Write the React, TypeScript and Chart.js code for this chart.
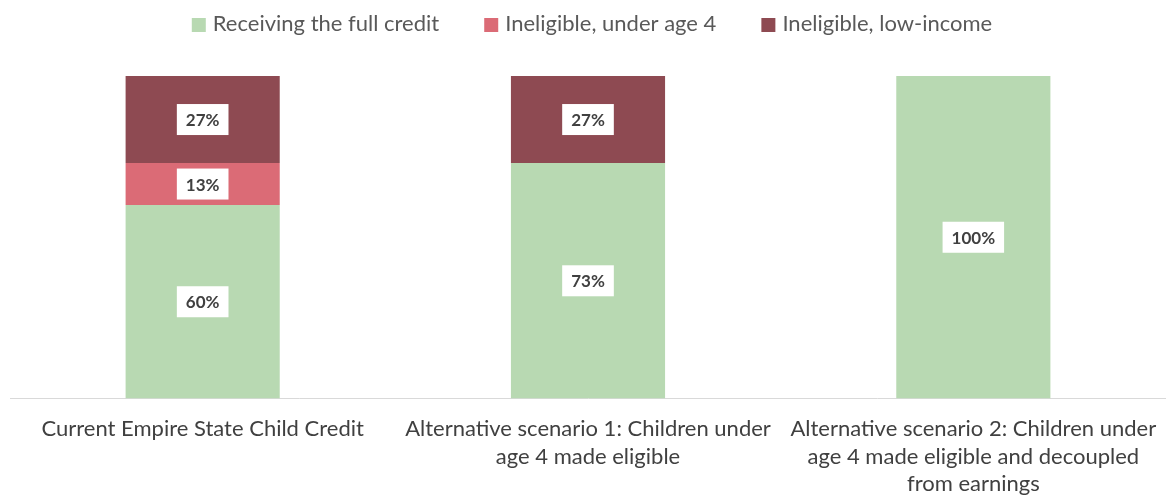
import React, { useEffect, useRef } from "react";
import { Chart, registerables } from "chart.js";

Chart.register(...registerables);

const categories: string[][] = [
  ["Current Empire State Child Credit"],
  ["Alternative scenario 1: Children under", "age 4 made eligible"],
  ["Alternative scenario 2: Children under", "age 4 made eligible and decoupled", "from earnings"],
];
const seriesNames = ["Receiving the full credit", "Ineligible, under age 4", "Ineligible, low-income"];
const seriesColors = ["#B8D9B2", "#DB6B76", "#8E4A52"];
const fullCredit = [60, 73, 100];
const underAge4 = [13, 0, 0];
const lowIncome = [27, 27, 0];

const FONT = "Lato, 'Open Sans', sans-serif";

const labelPlugin = {
  id: "boxLabels",
  afterDatasetsDraw(chart: any) {
    const ctx = chart.ctx;
    ctx.save();
    ctx.font = `bold 17px ${FONT}`;
    ctx.textAlign = "center";
    ctx.textBaseline = "middle";
    chart.data.datasets.forEach((ds: any, di: number) => {
      const meta = chart.getDatasetMeta(di);
      meta.data.forEach((el: any, i: number) => {
        const v = ds.data[i];
        if (!v) return;
        const cy = (el.y + el.base) / 2;
        const text = `${v}%`;
        const w = ctx.measureText(text).width + 18;
        const h = 31;
        ctx.fillStyle = "#ffffff";
        ctx.fillRect(el.x - w / 2, cy - h / 2, w, h);
        ctx.fillStyle = "#404040";
        ctx.fillText(text, el.x, cy + 1);
      });
    });
    ctx.restore();
  },
};

const legendPlugin = {
  id: "topLegend",
  afterDraw(chart: any) {
    const ctx = chart.ctx;
    ctx.save();
    ctx.font = `22px ${FONT}`;
    ctx.textBaseline = "middle";
    ctx.textAlign = "left";
    const box = 14;
    const gapBoxText = 7;
    const gapItems = 45;
    const items = chart.data.datasets.map((ds: any) => ({
      label: ds.label,
      color: ds.backgroundColor,
      w: ctx.measureText(ds.label).width,
    }));
    const total =
      items.reduce((s: number, it: any) => s + box + gapBoxText + it.w, 0) + gapItems * (items.length - 1);
    const center = (chart.chartArea.left + chart.chartArea.right) / 2 + 4;
    let x = center - total / 2;
    const y = 24;
    items.forEach((it: any) => {
      ctx.fillStyle = it.color;
      ctx.fillRect(x, y - box / 2 + 1, box, box);
      ctx.fillStyle = "#595959";
      ctx.fillText(it.label, x + box + gapBoxText, y);
      x += box + gapBoxText + it.w + gapItems;
    });
    ctx.restore();
  },
};

export default function App() {
  const ref = useRef<HTMLCanvasElement>(null);
  useEffect(() => {
    document.body.style.margin = "0";
    const chart = new Chart(ref.current!, {
      type: "bar",
      data: {
        labels: categories,
        datasets: [
          { label: seriesNames[0], data: fullCredit, backgroundColor: seriesColors[0] },
          { label: seriesNames[1], data: underAge4, backgroundColor: seriesColors[1] },
          { label: seriesNames[2], data: lowIncome, backgroundColor: seriesColors[2] },
        ],
      },
      options: {
        animation: false,
        responsive: false,
        layout: { padding: { left: 10, right: 0, top: 76, bottom: -9 } },
        datasets: { bar: { barPercentage: 0.4, categoryPercentage: 1 } },
        plugins: {
          legend: { display: false },
          tooltip: { enabled: false },
        },
        scales: {
          x: {
            stacked: true,
            grid: { display: false },
            border: { display: true, color: "#D9D9D9", width: 1 },
            ticks: {
              color: "#404040",
              font: { family: FONT, size: 22, lineHeight: 1.25 },
              maxRotation: 0,
              autoSkip: false,
              padding: 9,
            },
          },
          y: {
            stacked: true,
            min: 0,
            max: 100,
            display: false,
          },
        },
      },
      plugins: [labelPlugin, legendPlugin],
    });
    return () => chart.destroy();
  }, []);
  return <canvas ref={ref} width={1166} height={498} style={{ display: "block" }} />;
}
